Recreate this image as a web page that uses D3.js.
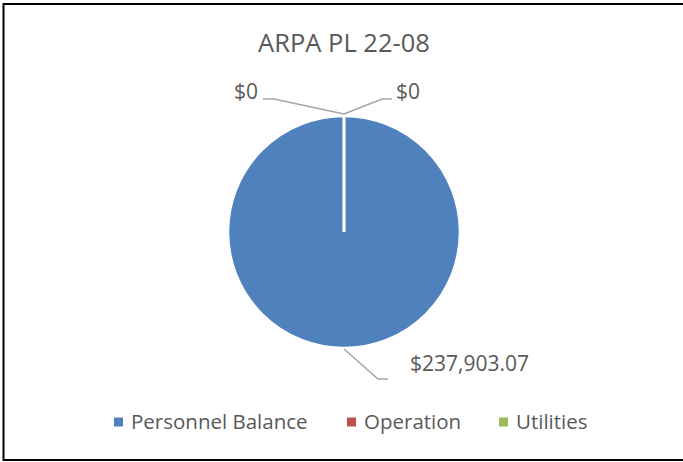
<!DOCTYPE html>
<html>
<head>
<meta charset="utf-8">
<script src="https://cdn.jsdelivr.net/npm/d3@7"></script>
<style>
  body { margin: 0; background: #fff; }
  text { font-family: "Open Sans", "Noto Sans", sans-serif; fill: #595959; }
</style>
</head>
<body>
<script>
// chart data
var categories = ["Personnel Balance", "Operation", "Utilities"];
var values     = [237903.07, 0, 0];
var colors     = ["#4f81bd", "#c0504d", "#9bbb59"];
var title      = "ARPA PL 22-08";

var width  = 683,
    height = 462;

var cx = 344, cy = 232, radius = 116;

// leader line layout for each label: elbow and end offsets from the anchor on the rim
var labelLayout = [
  {elbow: [34, 30],  end: [44, 30],  text: [66, 15],  anchor: "start"},
  {elbow: [-70, -15], end: [-81, -15], text: [-86, -22], anchor: "end"},
  {elbow: [38, -15], end: [48, -15], text: [52, -22],  anchor: "start"}
];

var svg = d3.select("body").append("svg")
  .attr("width", width)
  .attr("height", height);

// outer frame
svg.append("rect")
  .attr("x", 3.5).attr("y", 4)
  .attr("width", 720).attr("height", 456)
  .attr("fill", "#fff")
  .attr("stroke", "#000")
  .attr("stroke-width", 2);

svg.append("text")
  .attr("x", cx).attr("y", 52)
  .attr("text-anchor", "middle")
  .style("font-size", "25.5px")
  .text(title);

var data = categories.map(function(c, i) { return {name: c, value: values[i], color: colors[i]}; });

var pie = d3.pie().sort(null).value(function(d) { return d.value; });
var arcs = pie(data);

var arc = d3.arc().innerRadius(0).outerRadius(radius);

var g = svg.append("g").attr("transform", "translate(" + cx + "," + cy + ")");

g.selectAll("path")
  .data(arcs)
  .enter().append("path")
  .attr("d", arc)
  .attr("fill", function(d) { return d.data.color; })
  .attr("stroke", "#fff")
  .attr("stroke-width", 2.5);

// white separator at the slice start (zero slices)
g.append("line")
  .attr("x1", 0).attr("y1", 0)
  .attr("x2", 0).attr("y2", -radius)
  .attr("stroke", "#fff")
  .attr("stroke-width", 2.5);

var money = d3.format("$,.2f");
function fmt(v) { return v === 0 ? "$0" : money(v); }

// labels with leader lines
arcs.forEach(function(d, i) {
  var mid = (d.startAngle + d.endAngle) / 2;
  var r = i === 0 ? radius + 1 : radius + 2;
  var ax = Math.sin(mid) * r,
      ay = -Math.cos(mid) * r;
  var L = labelLayout[i];
  g.append("polyline")
    .attr("points", [[ax, ay], [ax + L.elbow[0], ay + L.elbow[1]], [ax + L.end[0], ay + L.end[1]]].join(" "))
    .attr("fill", "none")
    .attr("stroke", "#a6a6a6")
    .attr("stroke-width", 1.5);
  g.append("text")
    .attr("x", ax + L.text[0])
    .attr("y", ay + L.text[1])
    .attr("dy", "0.35em")
    .attr("text-anchor", L.anchor)
    .style("font-size", "21px")
    .text(fmt(d.data.value));
});

// legend
var legendX = [114, 347, 499];
var legend = svg.append("g").selectAll("g")
  .data(data)
  .enter().append("g")
  .attr("transform", function(d, i) { return "translate(" + legendX[i] + ",422)"; });

legend.append("rect")
  .attr("x", 0).attr("y", -4.5)
  .attr("width", 9).attr("height", 9)
  .attr("fill", function(d) { return d.color; });

legend.append("text")
  .attr("x", 17).attr("dy", "0.35em")
  .style("font-size", "20.5px")
  .text(function(d) { return d.name; });
</script>
</body>
</html>
